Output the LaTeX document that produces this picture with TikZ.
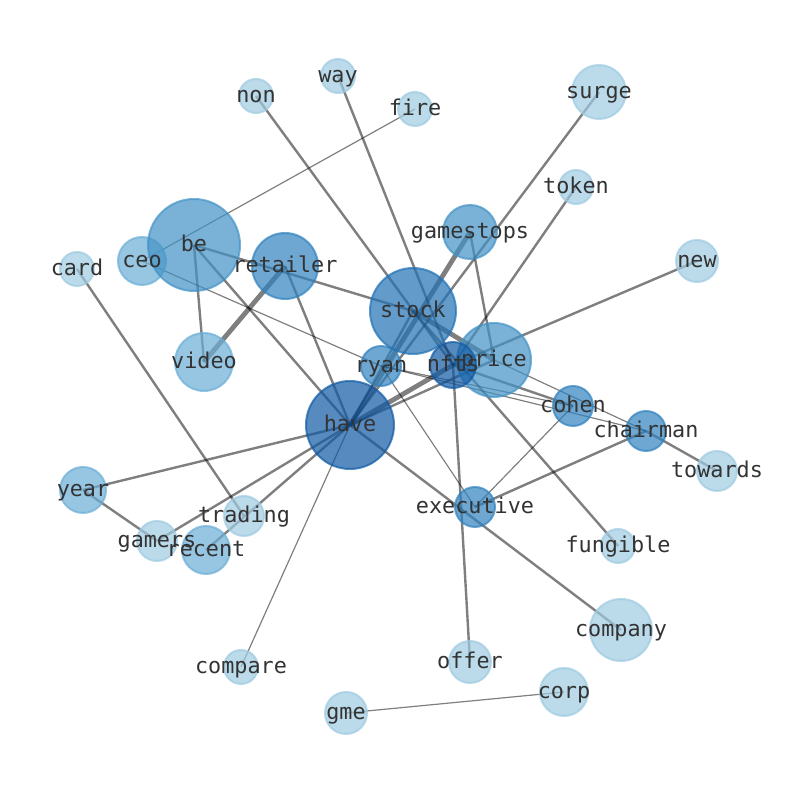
\documentclass[tikz,border=0pt]{standalone}
\usepackage{fontspec}
\setmonofont{DejaVu Sans Mono}
\usepackage{xcolor}
\definecolor{blueA}{RGB}{158,202,225}
\definecolor{blueB}{RGB}{107,174,214}
\definecolor{blueC}{RGB}{66,146,198}
\definecolor{blueD}{RGB}{48,130,190}
\definecolor{blueE}{RGB}{33,113,181}
\definecolor{blueF}{RGB}{16,90,165}
\pgfdeclarelayer{edges}
\pgfsetlayers{edges,main}

\begin{document}
\begin{tikzpicture}[
    x=0.5pt, y=-0.5pt,
    word/.style={circle, draw=#1, fill=#1, fill opacity=0.7, draw opacity=0.7, line width=1pt, inner sep=0pt},
    lbl/.style={font=\ttfamily\fontsize{10.9}{13}\selectfont, text=black!80, inner sep=0pt,
        text height=0.84em, text depth=0.16em},
    thin link/.style={draw=black, draw opacity=0.5, line width=0.6pt},
    link/.style={draw=black, draw opacity=0.5, line width=1.2pt},
    heavy link/.style={draw=black, draw opacity=0.5, line width=2.4pt}
]
\useasboundingbox (0,0) rectangle (794,790);

% words, radius in px
\foreach \n/\x/\y/\r in {way/338/76/17, non/256/96/17, fire/415/109/17, surge/599/92/27,
    token/576/187/17, new/697/261/21, card/77/269/17, towards/717/471/20,
    fungible/618/546/17, company/621/630/31, offer/470/662/21, compare/241/667/17,
    corp/564/692/24, gme/346/713/21, gamers/157/541/20, trading/244/516/20}
  \node[word=blueA, minimum size=\r pt] (\n) at (\x,\y) {};
\foreach \n/\x/\y/\r in {video/204/362/29, year/83/490/23, recent/206/550/24, ceo/142/261/24}
  \node[word=blueB, minimum size=\r pt] (\n) at (\x,\y) {};
\foreach \n/\x/\y/\r in {be/194/245/46, gamestops/470/232/27, price/494/360/37}
  \node[word=blueC, minimum size=\r pt] (\n) at (\x,\y) {};
\foreach \n/\x/\y/\r in {retailer/285/266/33, cohen/573/406/20, chairman/646/431/20,
    executive/475/507/20, ryan/381/366/20}
  \node[word=blueD, minimum size=\r pt] (\n) at (\x,\y) {};
\node[word=blueE, minimum size=43pt] (stock) at (413,311) {};
\node[word=blueF, minimum size=44pt] (have) at (350,425) {};
\node[word=blueF, minimum size=23pt] (nfts) at (453,365) {};

% links go under the words
\begin{pgfonlayer}{edges}
\foreach \a/\b in {fire/ceo, ceo/ryan, ryan/executive, have/compare, cohen/executive,
    gme/corp, ryan/chairman, price/chairman, ryan/cohen}
  \draw[thin link] (\a.center) -- (\b.center);
\foreach \a/\b in {card/trading, be/video, be/have, be/stock, retailer/have, surge/have,
    token/nfts, new/nfts, way/nfts, non/nfts, gamestops/price, year/have, year/gamers,
    gamers/have, recent/have, have/stock, have/company, nfts/offer, stock/fungible,
    chairman/executive, chairman/towards, nfts/cohen, have/price}
  \draw[link] (\a.center) -- (\b.center);
\foreach \a/\b in {retailer/video, stock/price, have/nfts, gamestops/have}
  \draw[heavy link] (\a.center) -- (\b.center);
\end{pgfonlayer}

% labels on top
\foreach \n in {way, non, fire, surge, token, new, card, towards, fungible, company, offer,
    compare, corp, gme, gamers, trading, video, year, recent, ceo, be, gamestops, price,
    retailer, cohen, chairman, executive, ryan, stock, have, nfts}
  \node[lbl] (\n-t) at (\n) {\n};
\end{tikzpicture}
\end{document}
